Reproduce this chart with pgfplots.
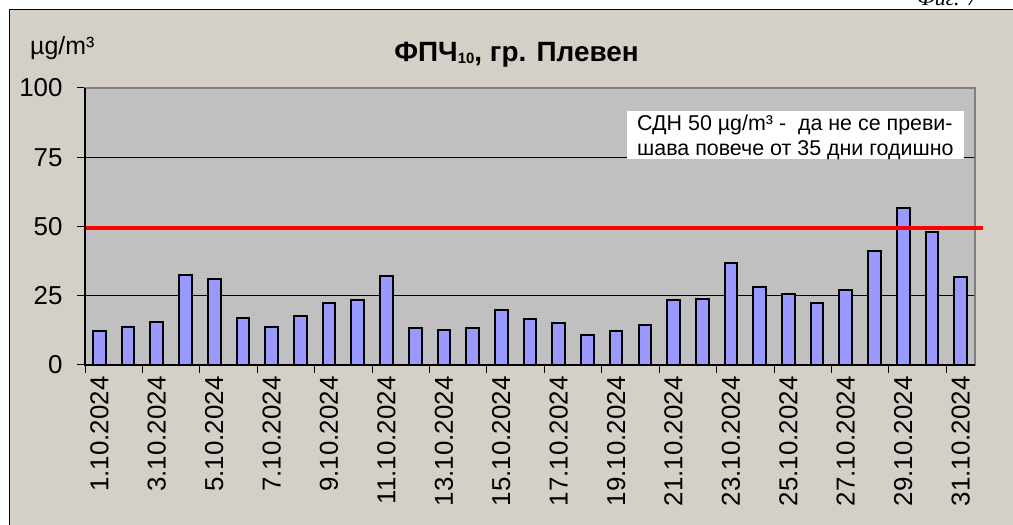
\documentclass[border=0pt]{standalone}
\usepackage{fontspec}
\setmainfont{Liberation Sans}
\newfontfamily\serifit{Liberation Serif}
\usepackage{pgfplots}
\pgfplotsset{compat=1.18}
\definecolor{framebg}{HTML}{D4D0C8}
\definecolor{plotbg}{HTML}{C0C0C0}
\definecolor{barfill}{HTML}{9999FF}
\definecolor{boxgray}{HTML}{808080}
\begin{document}
\begin{tikzpicture}[x=1bp,y=1bp]
\useasboundingbox (0,0) rectangle (1013,525);
\fill[white] (0,0) rectangle (1013,525);
\draw[line width=1.5bp, fill=framebg] (9.5,-10) rectangle (1030,515.5);
\node[anchor=base east, inner sep=0pt, font=\fontsize{22}{24}\selectfont\serifit\itshape] at (978,519) {Фиг. 7};
\begin{axis}[
  scale only axis, width=890bp, height=277bp,
  at={(85bp,160bp)}, anchor=south west,
  xmin=0.5, xmax=31.5, ymin=0, ymax=100,
  ybar, bar width=12.7bp, bar shift=0pt,
  axis background/.style={fill=plotbg},
  axis line style={draw=boxgray, line width=1.5bp},
  ytick={0,25,50,75,100},
  ymajorgrids, grid style={black, line width=0.8bp},
  xtick={1,3,...,31},
  xticklabels={1.10.2024,3.10.2024,5.10.2024,7.10.2024,9.10.2024,11.10.2024,13.10.2024,15.10.2024,17.10.2024,19.10.2024,21.10.2024,23.10.2024,25.10.2024,27.10.2024,29.10.2024,31.10.2024},
  minor xtick={0.5,2.5,...,30.5},
  every major x tick/.style={draw=none},
  tick align=outside, tick pos=left,
  major tick length=8bp, minor tick length=8bp,
  tick style={black, line width=1bp},
  /pgf/number format/assume math mode=true,
  tick label style={font=\fontsize{26}{28}\selectfont, text=black},
  yticklabel style={xshift=-11bp},
  xticklabel style={rotate=90, anchor=east},
  clip=false,
]
\addplot[fill=barfill, draw=black, line width=2bp] coordinates {
(1,12.3) (2,13.7) (3,15.5) (4,32.6) (5,30.9) (6,17.0) (7,13.7) (8,17.8)
(9,22.4) (10,23.3) (11,32.1) (12,13.2) (13,12.8) (14,13.2) (15,19.7) (16,16.5)
(17,15.0) (18,11.0) (19,12.3) (20,14.6) (21,23.5) (22,23.9) (23,36.9) (24,28.0)
(25,25.8) (26,22.5) (27,27.2) (28,41.0) (29,56.8) (30,48.0) (31,31.8)
};
\addplot[sharp plot, draw=red, line width=3.5bp, forget plot] coordinates {(0.5,49.4) (31.78,49.4)};
\draw[black, line width=1.5bp] (rel axis cs:0,1) -- (rel axis cs:0,0) -- (rel axis cs:1,0);
\end{axis}
\node[anchor=base, inner sep=0pt, font=\fontsize{28}{30}\selectfont\bfseries] at (516.5,463) {ФПЧ{\fontsize{15}{15}\selectfont\raisebox{-1.5bp}{10}}, гр. Плевен};
\node[anchor=base west, inner sep=0pt, font=\fontsize{25}{27}\selectfont] at (30,470) {µg/m³};
\fill[white] (627,366) rectangle (964,414);
\node[anchor=base west, inner sep=0pt, font=\fontsize{21.5}{24}\selectfont] at (637,394) {СДН 50 µg/m³ -\ \ да не се преви-};
\node[anchor=base west, inner sep=0pt, font=\fontsize{21.5}{24}\selectfont] at (637,369) {шава повече от 35 дни годишно};
\end{tikzpicture}
\end{document}
